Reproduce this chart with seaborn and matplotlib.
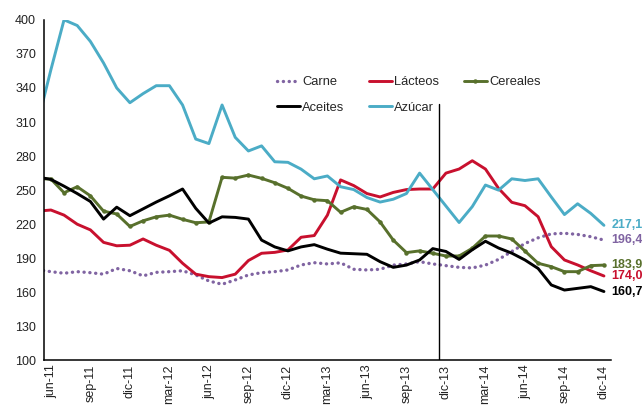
import numpy as np
import pandas as pd
import matplotlib
matplotlib.use('Agg')
import matplotlib.pyplot as plt
import seaborn as sns
from matplotlib.ticker import FixedLocator

# meses (may-11 solo para el tramo inicial recortado en el eje)
abrev = ['ene', 'feb', 'mar', 'abr', 'may', 'jun', 'jul', 'ago', 'sep', 'oct', 'nov', 'dic']
meses = [f'{m}-{a}' for a in range(11, 15) for m in abrev]
meses = meses[meses.index('may-11'):]

carne = [180, 178.2, 176.8, 178.2, 177.3, 176, 181, 179, 174.5, 177.6, 178.2, 179, 175.3, 170, 167.1,
         170.9, 175.3, 177.3, 178.2, 179.7, 184.1, 186.1, 185, 186, 180.3, 179.7, 180.3, 184, 185, 187,
         185, 183.5, 182, 181.5, 184, 189, 196, 203, 208, 211.5, 212, 211, 209, 206]
lacteos = [231.5, 232.5, 228, 220, 215, 204, 201, 201.5, 207, 201.5, 197, 185.6, 176, 173.8, 173,
           176, 188, 194.4, 195.2, 197.3, 208.5, 210, 228, 259, 254, 247, 244, 248, 250.5, 251, 251,
           265, 268.6, 275.9, 268.6, 251.5, 239.3, 236.3, 226.6, 200.2, 188.5, 184.1, 179, 174.4]
cereales = [260, 259.8, 247.7, 253, 245, 231.5, 229, 218, 223, 226.5, 228, 224.3, 221.3, 222, 261.3,
            260.6, 263.3, 260.4, 256.5, 251.6, 244.8, 241.5, 240.7, 230.5, 235.4, 233, 222, 206, 195,
            196.5, 194.4, 192, 192, 198.8, 209.6, 209.6, 207, 196.4, 185.6, 182.6, 178.2, 178.2, 183.5, 184]
aceites = [261.5, 259.5, 253.5, 247, 240, 224.5, 235, 227.5, 233.5, 239.5, 245, 251, 234, 221, 226.5,
           226, 224.5, 206, 200, 196.5, 200, 202, 198, 194.5, 194, 193.5, 187, 182, 184, 188.5, 198.5,
           196, 189, 197.5, 205, 199, 194.5, 188.5, 181, 166.5, 162, 163.5, 165, 160.7]
azucar = [309.5, 356, 400, 395, 381, 362, 340, 327, 335, 342, 342, 325, 295, 291, 325, 296.5, 284.5,
          289, 275, 274.5, 268.5, 260, 262.5, 253, 250.5, 243.5, 239.5, 242, 247, 265, 250.5, 236,
          221.5, 235.5, 254.5, 250, 260, 258.5, 260, 244, 228.5, 238, 229.5, 219]

etiquetas_fin = {'Carne': '196,4', 'Lácteos': '174,0', 'Cereales': '183,9',
                 'Aceites': '160,7', 'Azúcar': '217,1'}

series = {'Carne': carne, 'Lácteos': lacteos, 'Cereales': cereales,
          'Aceites': aceites, 'Azúcar': azucar}
colores = {'Carne': '#8064A2', 'Lácteos': '#C8102E', 'Cereales': '#58702C',
           'Aceites': '#000000', 'Azúcar': '#4BACC6'}

df = pd.DataFrame(series)
df['mes'] = meses
df['x'] = np.arange(len(meses))

sns.set_theme(style='white')
plt.rcParams['font.family'] = ['Liberation Sans', 'DejaVu Sans']

fig = plt.figure(figsize=(6.42, 4.05), dpi=100)
ax = fig.add_axes([0.069, 0.110, 0.882, 0.841])

for nombre in ['Carne', 'Lácteos', 'Cereales', 'Aceites', 'Azúcar']:
    kw = dict(color=colores[nombre], linewidth=2.1, label=nombre)
    if nombre == 'Carne':
        kw.update(linestyle=(0, (0.05, 1.7)), dash_capstyle='round', linewidth=2.4)
    if nombre == 'Cereales':
        kw.update(marker='o', markersize=3.2, markeredgewidth=0)
    sns.lineplot(data=df, x='x', y=nombre, ax=ax, **kw)

# linea vertical en dic-13
x_corte = meses.index('dic-13') - 0.5
ax.axvline(x_corte, ymin=0, ymax=(326 - 100) / 300, color='black', linewidth=1.0)

# etiquetas finales
xf = df['x'].iloc[-1]
for nombre, txt in etiquetas_fin.items():
    ax.text(xf + 0.55, series[nombre][-1], txt, color=colores[nombre], fontsize=9,
            fontweight='bold', va='center', ha='left', clip_on=False)

ax.set_xlim(0.5, len(meses) - 0.5)
ax.set_ylim(100, 400)
ax.set_yticks(np.arange(100, 401, 30))

pos = list(range(meses.index('jun-11'), len(meses), 3))
ax.set_xticks(pos)
ax.set_xticklabels([meses[p] for p in pos], rotation=90, fontsize=9, color='#222222')
ax.xaxis.set_minor_locator(FixedLocator([p - 0.5 for p in pos]))
ax.tick_params(axis='x', which='major', length=0, pad=3)
ax.tick_params(axis='x', which='minor', length=4, width=1.1, color='black', direction='out')
ax.tick_params(axis='y', length=4, width=1.1, color='black', direction='out', labelsize=9,
               labelcolor='#222222', pad=2)
ax.set_xlabel('')
ax.set_ylabel('')

for s in ['top', 'right']:
    ax.spines[s].set_visible(False)
for s in ['left', 'bottom']:
    ax.spines[s].set_color('black')
    ax.spines[s].set_linewidth(1.1)

h, l = ax.get_legend_handles_labels()
orden = ['Carne', 'Aceites', 'Lácteos', 'Azúcar', 'Cereales']
hd = dict(zip(l, h))
ax.legend([hd[o] for o in orden], orden, ncol=3, frameon=False, loc='upper left',
          bbox_to_anchor=(0.402, 0.85), borderaxespad=0, fontsize=9.3, handlelength=1.8,
          handletextpad=0.15, columnspacing=1.9, labelspacing=1.05)

fig.savefig('out.png', dpi=100)
